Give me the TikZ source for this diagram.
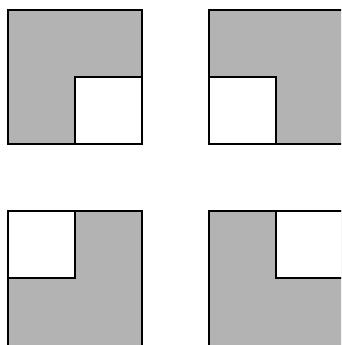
\documentclass[tikz,border=0pt]{standalone}
\definecolor{tilegray}{HTML}{B3B3B3}
\tikzset{
  tile/.style={fill=tilegray, draw=black, line width=1.2pt},
  hole/.style={fill=white, draw=black, line width=1.2pt}
}
\begin{document}
\begin{tikzpicture}[x=1pt,y=-1pt]
\useasboundingbox (0,0) rectangle (341,345);
\clip (0,0) rectangle (341,345);
% top-left
\draw[tile] (8,10) rectangle (142,144);
\draw[hole] (75,77) rectangle (142,144);
% top-right
\draw[tile] (209,10) rectangle (343,144);
\draw[hole] (209,77) rectangle (276,144);
% bottom-left
\draw[tile] (8,211) rectangle (142,347);
\draw[hole] (8,211) rectangle (75,278);
% bottom-right
\draw[tile] (209,211) rectangle (343,347);
\draw[hole] (276,211) rectangle (343,278);
\end{tikzpicture}
\end{document}
